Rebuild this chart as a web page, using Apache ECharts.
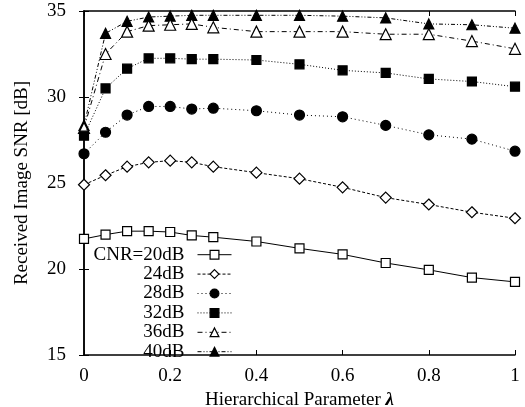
<!DOCTYPE html>
<html>
<head>
<meta charset="utf-8">
<script src="https://cdn.jsdelivr.net/npm/echarts@6/dist/echarts.min.js"></script>
<style>
  html, body { margin: 0; padding: 0; background: #fff; }
  #chart { width: 525px; height: 407px; }
</style>
</head>
<body>
<div id="chart"></div>
<script>
// Hierarchical parameter values (x axis)
const lambda = [0, 0.05, 0.1, 0.15, 0.2, 0.25, 0.3, 0.4, 0.5, 0.6, 0.7, 0.8, 0.9, 1.0];

// Received image SNR [dB] for each channel CNR
const cnr20 = [21.75, 22.0, 22.2, 22.2, 22.15, 21.95, 21.85, 21.6, 21.2, 20.85, 20.35, 19.95, 19.5, 19.25];
const cnr24 = [24.9, 25.45, 25.95, 26.2, 26.3, 26.2, 25.95, 25.6, 25.25, 24.75, 24.15, 23.75, 23.3, 22.95];
const cnr28 = [26.7, 27.95, 28.95, 29.45, 29.45, 29.3, 29.35, 29.2, 28.95, 28.85, 28.35, 27.8, 27.55, 26.85];
const cnr32 = [27.75, 30.5, 31.65, 32.25, 32.25, 32.2, 32.2, 32.15, 31.9, 31.55, 31.4, 31.05, 30.9, 30.6];
const cnr36 = [28.2, 32.5, 33.8, 34.15, 34.2, 34.25, 34.05, 33.8, 33.8, 33.8, 33.65, 33.65, 33.25, 32.8];
const cnr40 = [28.35, 33.7, 34.4, 34.65, 34.7, 34.75, 34.75, 34.75, 34.75, 34.7, 34.6, 34.25, 34.2, 34.0];

const seriesNames = ['CNR=20dB', '24dB', '28dB', '32dB', '36dB', '40dB'];
const xTicks = [0, 0.2, 0.4, 0.6, 0.8, 1];
const yTicks = [15, 20, 25, 30, 35];

const FONT = "'Liberation Serif', 'DejaVu Serif', serif";

function pairs(values) {
  return lambda.map((x, i) => [x, values[i]]);
}

// marker + line style for each curve
const styles = [
  { data: cnr20, symbol: 'rect',     size: 9,  fill: '#fff', dash: 'solid' },
  { data: cnr24, symbol: 'diamond',  size: 11, fill: '#fff', dash: [3, 2] },
  { data: cnr28, symbol: 'circle',   size: 10, fill: '#000', dash: [1, 3] },
  { data: cnr32, symbol: 'rect',     size: 9,  fill: '#000', dash: [1, 2] },
  { data: cnr36, symbol: 'triangle', size: 11, fill: '#fff', dash: [5, 3, 1, 3] },
  { data: cnr40, symbol: 'triangle', size: 10, fill: '#000', dash: [4, 2, 1, 2, 1, 2] }
];

const series = styles.map((s, i) => ({
  name: seriesNames[i],
  type: 'line',
  data: pairs(s.data),
  symbol: s.symbol,
  symbolSize: s.size,
  showAllSymbol: true,
  clip: false,
  animation: false,
  z: 10 - i,
  lineStyle: { color: '#000', width: 1, type: s.dash },
  itemStyle: { color: s.fill, borderColor: '#000', borderWidth: 1.2 },
  emphasis: { disabled: true }
}));

const axisLine = { show: true, lineStyle: { color: '#000', width: 1.5 } };
const inTick = { show: true, inside: true, length: 5, lineStyle: { color: '#000', width: 1 } };

const chart = echarts.init(document.getElementById('chart'), null, { renderer: 'canvas' });
chart.setOption({
  backgroundColor: '#fff',
  animation: false,
  grid: { left: 84, right: 10, top: 11, bottom: 52, containLabel: false, outerBoundsMode: 'none' },
  legend: {
    orient: 'vertical',
    align: 'right',
    right: 288,
    top: 240,
    itemWidth: 34,
    itemHeight: 11,
    itemGap: 0,
    selectedMode: false,
    data: seriesNames,
    lineStyle: { width: 1 },
    itemStyle: { borderWidth: 1.2 },
    textStyle: {
      fontFamily: FONT, fontSize: 19, color: '#000',
      lineHeight: 19.4, padding: [0, 8, 0, 0]
    }
  },
  xAxis: [
    {
      type: 'value', min: 0, max: 1, interval: 0.2,
      name: 'Hierarchical Parameter {l|\u03bb}',
      nameLocation: 'middle', nameGap: 33,
      nameTextStyle: {
        fontFamily: FONT, fontSize: 19, color: '#000',
        rich: { l: { fontFamily: FONT, fontSize: 19, fontWeight: 'bold', fontStyle: 'italic', color: '#000' } }
      },
      axisLine, axisTick: inTick,
      axisLabel: {
        fontFamily: FONT, fontSize: 19, color: '#000', margin: 12,
        formatter: v => xTicks.includes(+v.toFixed(2)) ? String(+v.toFixed(2)) : ''
      },
      splitLine: { show: false }
    },
    {
      type: 'value', position: 'top', min: 0, max: 1, interval: 0.2,
      axisLine, axisTick: inTick, axisLabel: { show: false }, splitLine: { show: false }
    }
  ],
  yAxis: [
    {
      type: 'value', min: 15, max: 35, interval: 5,
      name: 'Received Image SNR [dB]',
      nameLocation: 'middle', nameGap: 52,
      nameTextStyle: { fontFamily: FONT, fontSize: 19, color: '#000' },
      axisLine, axisTick: inTick,
      axisLabel: {
        fontFamily: FONT, fontSize: 19, color: '#000', margin: 18,
        formatter: v => yTicks.includes(v) ? String(v) : ''
      },
      splitLine: { show: false }
    },
    {
      type: 'value', position: 'right', min: 15, max: 35, interval: 5,
      axisLine, axisTick: inTick, axisLabel: { show: false }, splitLine: { show: false }
    }
  ],
  series
});
</script>
</body>
</html>
